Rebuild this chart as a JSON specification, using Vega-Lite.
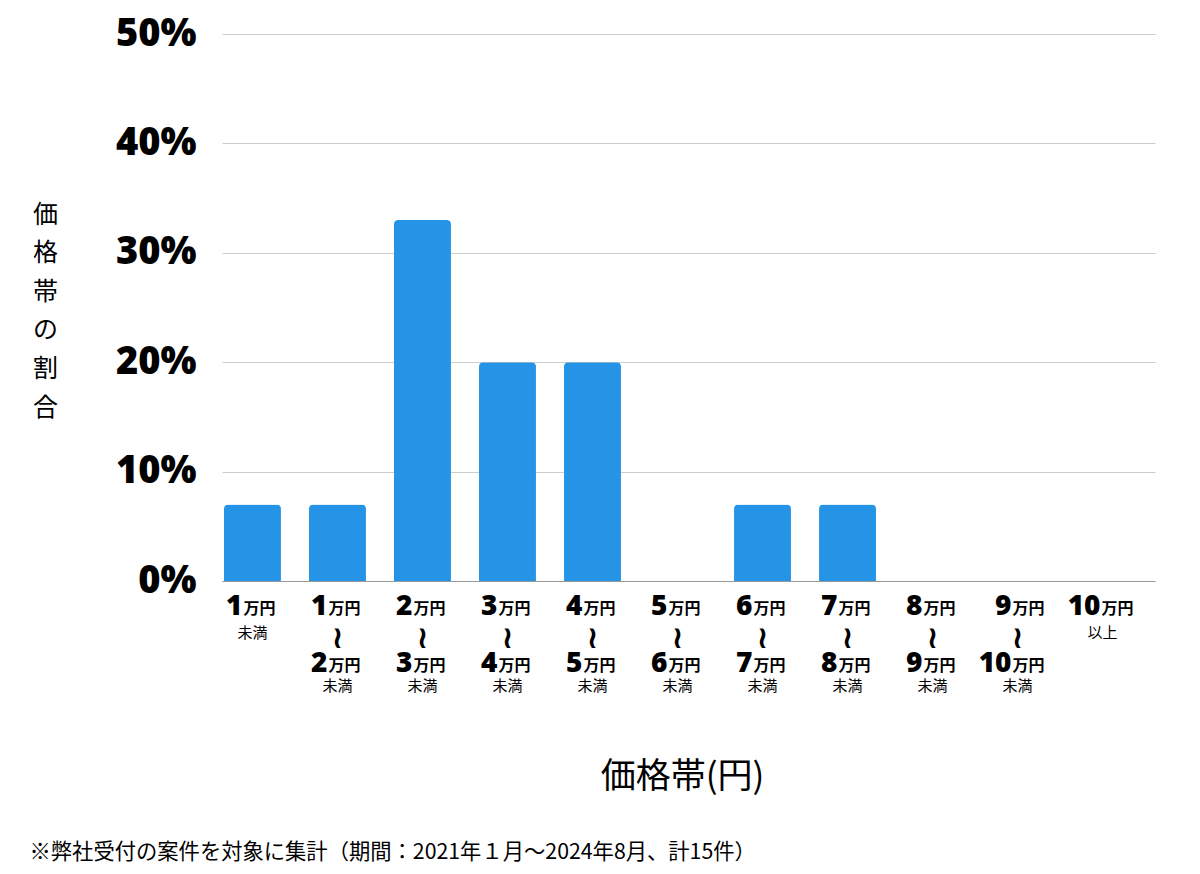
{
  "$schema": "https://vega.github.io/schema/vega-lite/v6.json",
  "width": 933,
  "height": 547,
  "autosize": {"type": "none"},
  "padding": {"left": 222, "top": 34, "right": 45, "bottom": 293},
  "config": {
    "font": "Noto Sans CJK JP",
    "view": {"stroke": null}
  },
  "data": {
    "values": [
      {"band": "〜1", "share": 0.07},
      {"band": "1〜2", "share": 0.07},
      {"band": "2〜3", "share": 0.33},
      {"band": "3〜4", "share": 0.2},
      {"band": "4〜5", "share": 0.2},
      {"band": "5〜6", "share": 0},
      {"band": "6〜7", "share": 0.07},
      {"band": "7〜8", "share": 0.07},
      {"band": "8〜9", "share": 0},
      {"band": "9〜10", "share": 0},
      {"band": "10〜", "share": 0}
    ]
  },
  "layer": [
    {
      "mark": {"type": "bar", "color": "#2593e6", "cornerRadiusTopLeft": 4, "cornerRadiusTopRight": 4},
      "encoding": {
        "x": {
          "field": "band",
          "type": "nominal",
          "sort": null,
          "scale": {"paddingInner": 0.33, "paddingOuter": 0.153, "align": 0.077},
          "axis": {
            "orient": "bottom",
            "labelExpr": "split(datum.value,'〜')[0] == '' ? split(datum.value,'〜')[1] : split(datum.value,'〜')[1] == '' ? split(datum.value,'〜')[0] : [split(datum.value,'〜')[0], split(datum.value,'〜')[1]]",
            "labelAngle": 0,
            "labelAlign": "right",
            "labelBaseline": "alphabetic",
            "labelOffset": {"condition": [{"test": "datum.value == '10〜'", "value": -2}, {"test": "datum.value == '9〜10'", "value": -6}], "value": -10},
            "labelPadding": 33,
            "labelLineHeight": 57,
            "labelFont": "Noto Sans",
            "labelFontWeight": 900,
            "labelFontSize": 28,
            "labelColor": "#000000",
            "labelOverlap": false,
            "ticks": false,
            "domainColor": "#999999",
            "title": "価格帯(円)",
            "titleX": 460,
            "titleY": 206,
            "titleAlign": "center",
            "titleBaseline": "alphabetic",
            "titleFontSize": 35,
            "titleFontWeight": "normal",
            "titleColor": "#000000"
          }
        },
        "y": {
          "field": "share",
          "type": "quantitative",
          "scale": {"domain": [0, 0.5]},
          "axis": {
            "format": ".0%",
            "values": [0, 0.1, 0.2, 0.3, 0.4, 0.5],
            "labelFont": "Noto Sans",
            "labelFontWeight": 900,
            "labelFontSize": 38,
            "labelColor": "#000000",
            "labelPadding": 26,
            "ticks": false,
            "domain": false,
            "gridColor": "#cccccc",
            "title": ["価", "格", "帯", "の", "割", "合"],
            "titleAngle": 0,
            "titleX": -177,
            "titleY": 168,
            "titleAlign": "center",
            "titleBaseline": "top",
            "titleLineHeight": 38.6,
            "titleFontSize": 25,
            "titleFontWeight": "normal",
            "titleColor": "#000000"
          }
        }
      }
    },
    {
      "mark": {"type": "bar", "opacity": 0},
      "encoding": {
        "x": {
          "field": "band",
          "type": "nominal",
          "sort": null,
          "scale": {"paddingInner": 0.33, "paddingOuter": 0.153, "align": 0.077},
          "axis": {
            "orient": "bottom",
            "labelExpr": "indexof(datum.value,'〜') == 0 || indexof(datum.value,'〜') == length(datum.value) - 1 ? '万円' : ['万円', '万円']",
            "labelAngle": 0,
            "labelAlign": "left",
            "labelBaseline": "alphabetic",
            "labelOffset": {"condition": [{"test": "datum.value == '10〜'", "value": -1}, {"test": "datum.value == '9〜10'", "value": -5}], "value": -9},
            "labelPadding": 32,
            "labelLineHeight": 57,
            "labelFontWeight": "bold",
            "labelFontSize": 16,
            "labelColor": "#000000",
            "labelOverlap": false,
            "ticks": false,
            "domain": false,
            "grid": false,
            "title": "※弊社受付の案件を対象に集計（期間：2021年１月〜2024年8月、計15件）",
            "titleX": -193,
            "titleY": 277,
            "titleAlign": "left",
            "titleBaseline": "alphabetic",
            "titleFontSize": 21.3,
            "titleFontWeight": "normal",
            "titleColor": "#000000"
          }
        }
      }
    },
    {
      "mark": {"type": "bar", "opacity": 0},
      "encoding": {
        "x": {
          "field": "band",
          "type": "nominal",
          "sort": null,
          "scale": {"paddingInner": 0.33, "paddingOuter": 0.153, "align": 0.077},
          "axis": {
            "orient": "bottom",
            "labelExpr": "indexof(datum.value,'〜') == 0 ? '未満' : indexof(datum.value,'〜') == length(datum.value) - 1 ? '以上' : '未満'",
            "labelAngle": 0,
            "labelAlign": "center",
            "labelBaseline": "alphabetic",
            "labelPadding": {"condition": {"test": "indexof(datum.value,'〜') == 0 || indexof(datum.value,'〜') == length(datum.value) - 1", "value": 56}, "value": 109},
            "labelFontWeight": "normal",
            "labelFontSize": 15,
            "labelColor": "#000000",
            "labelOverlap": false,
            "ticks": false,
            "domain": false,
            "grid": false,
            "title": null
          }
        }
      }
    },
    {
      "mark": {"type": "bar", "opacity": 0},
      "encoding": {
        "x": {
          "field": "band",
          "type": "nominal",
          "sort": null,
          "scale": {"paddingInner": 0.33, "paddingOuter": 0.153, "align": 0.077},
          "axis": {
            "orient": "bottom",
            "labelExpr": "indexof(datum.value,'〜') == 0 || indexof(datum.value,'〜') == length(datum.value) - 1 ? '' : '≀'",
            "labelAngle": 0,
            "labelAlign": "center",
            "labelBaseline": "middle",
            "labelPadding": 57,
            "labelFont": "DejaVu Sans",
            "labelFontWeight": "bold",
            "labelFontSize": 31,
            "labelColor": "#000000",
            "labelOverlap": false,
            "ticks": false,
            "domain": false,
            "grid": false,
            "title": null
          }
        }
      }
    }
  ],
  "resolve": {"scale": {"x": "independent"}, "axis": {"x": "independent"}}
}
